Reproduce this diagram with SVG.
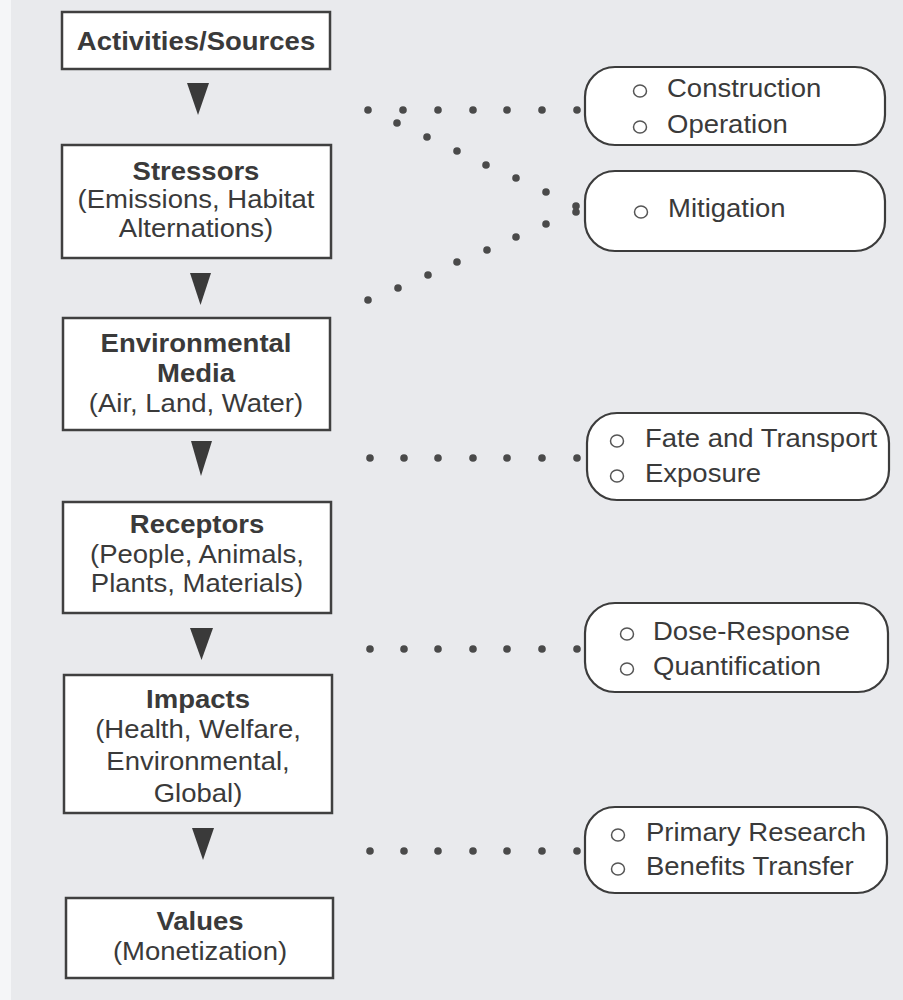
<svg xmlns="http://www.w3.org/2000/svg" width="903" height="1000" viewBox="0 0 903 1000">
<style>
.bg{fill:#e9eaed}
.box{fill:#ffffff;stroke:#404040;stroke-width:2.5}
.rbox{fill:#ffffff;stroke:#3c3c3c;stroke-width:2.2}
.t{font-family:"Liberation Sans",Arial,sans-serif;font-size:25px;fill:#3a3a3a}
.c{text-anchor:middle}
.b{font-weight:bold}
.bul{fill:none;stroke:#555555;stroke-width:1.5}
.dot{fill:#4a4a4a}
.arr{fill:#3a3a3a}
</style>
<rect class="bg" x="0" y="0" width="903" height="1000"/>
<rect x="0" y="0" width="11" height="1000" fill="#f5f6f8"/>

<g id="connectors">
  <polygon class="arr" points="187,83 209,83 198,115"/>
  <polygon class="arr" points="190,273 211,273 200.5,305"/>
  <polygon class="arr" points="191,441 212,441 201,476"/>
  <polygon class="arr" points="190,628 213,628 201.5,660"/>
  <polygon class="arr" points="192,828 214,828 203,860"/>
  <g id="dots-top">
    <circle class="dot" cx="368" cy="110" r="3.8"/>
    <circle class="dot" cx="403" cy="110" r="3.8"/>
    <circle class="dot" cx="438" cy="110" r="3.8"/>
    <circle class="dot" cx="473" cy="110" r="3.8"/>
    <circle class="dot" cx="507" cy="110" r="3.8"/>
    <circle class="dot" cx="542" cy="110" r="3.8"/>
    <circle class="dot" cx="577" cy="110" r="3.8"/>
  </g>
  <g id="dots-diag">
    <circle class="dot" cx="397" cy="123" r="3.8"/>
    <circle class="dot" cx="427" cy="137" r="3.8"/>
    <circle class="dot" cx="457" cy="151" r="3.8"/>
    <circle class="dot" cx="486" cy="165" r="3.8"/>
    <circle class="dot" cx="516" cy="178" r="3.8"/>
    <circle class="dot" cx="546" cy="192" r="3.8"/>
    <circle class="dot" cx="576" cy="206" r="3.8"/>
    <circle class="dot" cx="576" cy="212" r="3.8"/>
    <circle class="dot" cx="546" cy="224" r="3.8"/>
    <circle class="dot" cx="516" cy="237" r="3.8"/>
    <circle class="dot" cx="487" cy="250" r="3.8"/>
    <circle class="dot" cx="457" cy="262" r="3.8"/>
    <circle class="dot" cx="428" cy="275" r="3.8"/>
    <circle class="dot" cx="398" cy="288" r="3.8"/>
    <circle class="dot" cx="368" cy="300" r="3.8"/>
  </g>
  <g id="dots-fate">
    <circle class="dot" cx="370" cy="458" r="3.8"/>
    <circle class="dot" cx="404" cy="458" r="3.8"/>
    <circle class="dot" cx="438" cy="458" r="3.8"/>
    <circle class="dot" cx="473" cy="458" r="3.8"/>
    <circle class="dot" cx="507" cy="458" r="3.8"/>
    <circle class="dot" cx="542" cy="458" r="3.8"/>
    <circle class="dot" cx="577" cy="458" r="3.8"/>
  </g>
  <g id="dots-dose">
    <circle class="dot" cx="370" cy="649" r="3.8"/>
    <circle class="dot" cx="404" cy="649" r="3.8"/>
    <circle class="dot" cx="438" cy="649" r="3.8"/>
    <circle class="dot" cx="473" cy="649" r="3.8"/>
    <circle class="dot" cx="507" cy="649" r="3.8"/>
    <circle class="dot" cx="542" cy="649" r="3.8"/>
    <circle class="dot" cx="577" cy="649" r="3.8"/>
  </g>
  <g id="dots-values">
    <circle class="dot" cx="370" cy="851" r="3.8"/>
    <circle class="dot" cx="404" cy="851" r="3.8"/>
    <circle class="dot" cx="438" cy="851" r="3.8"/>
    <circle class="dot" cx="473" cy="851" r="3.8"/>
    <circle class="dot" cx="507" cy="851" r="3.8"/>
    <circle class="dot" cx="542" cy="851" r="3.8"/>
    <circle class="dot" cx="577" cy="851" r="3.8"/>
  </g>
</g>

<g id="activities">
  <rect class="box" x="62" y="12" width="268" height="57"/>
  <text class="t c b" transform="translate(196 50) scale(1.1 1)" x="0" y="0">Activities/Sources</text>
</g>
<g id="stressors">
  <rect class="box" x="62" y="145" width="269" height="113"/>
  <text class="t c" transform="translate(196 0) scale(1.1 1)"><tspan class="b" x="0" y="180">Stressors</tspan><tspan x="0" y="208">(Emissions, Habitat</tspan><tspan x="0" y="237">Alternations)</tspan></text>
</g>
<g id="media">
  <rect class="box" x="63" y="318" width="267" height="112"/>
  <text class="t c" transform="translate(196 0) scale(1.1 1)"><tspan class="b" x="0" y="352">Environmental</tspan><tspan class="b" x="0" y="382">Media</tspan><tspan x="0" y="412">(Air, Land, Water)</tspan></text>
</g>
<g id="receptors">
  <rect class="box" x="63" y="502" width="268" height="111"/>
  <text class="t c" transform="translate(197 0) scale(1.1 1)"><tspan class="b" x="0" y="533">Receptors</tspan><tspan x="0" y="563">(People, Animals,</tspan><tspan x="0" y="592">Plants, Materials)</tspan></text>
</g>
<g id="impacts">
  <rect class="box" x="64" y="675" width="268" height="138"/>
  <text class="t c" transform="translate(198 0) scale(1.1 1)"><tspan class="b" x="0" y="708">Impacts</tspan><tspan x="0" y="738">(Health, Welfare,</tspan><tspan x="0" y="770">Environmental,</tspan><tspan x="0" y="802">Global)</tspan></text>
</g>
<g id="values">
  <rect class="box" x="66" y="898" width="267" height="80"/>
  <text class="t c" transform="translate(200 0) scale(1.1 1)"><tspan class="b" x="0" y="930">Values</tspan><tspan x="0" y="960">(Monetization)</tspan></text>
</g>

<g id="construction-operation">
  <rect class="rbox" x="585" y="67" width="300" height="78" rx="30" ry="30"/>
  <ellipse class="bul" cx="640" cy="91" rx="6.5" ry="6"/>
  <ellipse class="bul" cx="640" cy="127" rx="6.5" ry="6"/>
  <text class="t" transform="translate(667 97) scale(1.1 1)" x="0" y="0">Construction</text>
  <text class="t" transform="translate(667 133) scale(1.1 1)" x="0" y="0">Operation</text>
</g>
<g id="mitigation">
  <rect class="rbox" x="585" y="171" width="300" height="80" rx="30" ry="30"/>
  <ellipse class="bul" cx="641" cy="212" rx="6.5" ry="6"/>
  <text class="t" transform="translate(668 217) scale(1.1 1)" x="0" y="0">Mitigation</text>
</g>
<g id="fate-exposure">
  <rect class="rbox" x="587" y="413" width="302" height="87" rx="30" ry="30"/>
  <ellipse class="bul" cx="617" cy="441" rx="6.5" ry="6"/>
  <ellipse class="bul" cx="617" cy="476" rx="6.5" ry="6"/>
  <text class="t" transform="translate(645 447) scale(1.1 1)" x="0" y="0">Fate and Transport</text>
  <text class="t" transform="translate(645 482) scale(1.1 1)" x="0" y="0">Exposure</text>
</g>
<g id="dose-quantification">
  <rect class="rbox" x="585" y="603" width="303" height="89" rx="30" ry="30"/>
  <ellipse class="bul" cx="627" cy="634" rx="6.5" ry="6"/>
  <ellipse class="bul" cx="627" cy="669" rx="6.5" ry="6"/>
  <text class="t" transform="translate(653 640) scale(1.1 1)" x="0" y="0">Dose-Response</text>
  <text class="t" transform="translate(653 675) scale(1.1 1)" x="0" y="0">Quantification</text>
</g>
<g id="research-transfer">
  <rect class="rbox" x="585" y="807" width="302" height="86" rx="30" ry="30"/>
  <ellipse class="bul" cx="618" cy="835" rx="6.5" ry="6"/>
  <ellipse class="bul" cx="618" cy="869" rx="6.5" ry="6"/>
  <text class="t" transform="translate(646 841) scale(1.1 1)" x="0" y="0">Primary Research</text>
  <text class="t" transform="translate(646 875) scale(1.1 1)" x="0" y="0">Benefits Transfer</text>
</g>
</svg>
